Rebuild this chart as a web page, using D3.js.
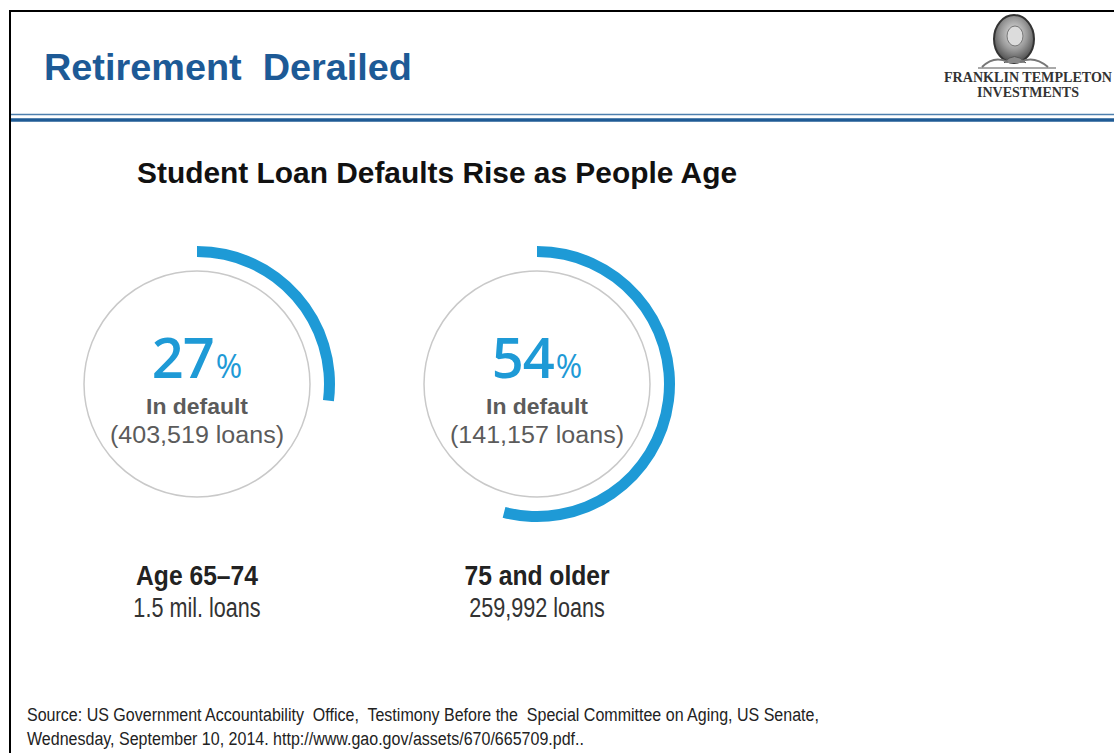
<!DOCTYPE html>
<html>
<head>
<meta charset="utf-8">
<script src="https://cdn.jsdelivr.net/npm/d3@7"></script>
<style>
  html, body { margin: 0; padding: 0; background: #fff; }
  svg { display: block; }
</style>
</head>
<body>
<svg id="chart" width="1114" height="753"></svg>
<script>
// Chart data
const groups = ["Age 65\u201374", "75 and older"];
const totalLoans = ["1.5 mil. loans", "259,992 loans"];
const defaultPct = [27, 54];
const defaultLoans = ["(403,519 loans)", "(141,157 loans)"];

const svg = d3.select("#chart");
const W = 1114, H = 753;

// squeeze text horizontally to mimic a condensed face
function condense(sel, k) {
    sel.each(function() {
        const n = this.getComputedTextLength();
        d3.select(this).attr("textLength", n * k).attr("lengthAdjust", "spacingAndGlyphs");
    });
}

// Slide frame
svg.append("line").attr("x1", 10).attr("x2", 10).attr("y1", 10).attr("y2", H)
    .attr("stroke", "#000").attr("stroke-width", 2);
svg.append("line").attr("x1", 9).attr("x2", W).attr("y1", 11).attr("y2", 11)
    .attr("stroke", "#000").attr("stroke-width", 2);

// Header rule (double line)
svg.append("line").attr("x1", 11).attr("x2", W).attr("y1", 114.5).attr("y2", 114.5)
    .attr("stroke", "#4d7fae").attr("stroke-width", 1.5);
svg.append("line").attr("x1", 11).attr("x2", W).attr("y1", 120).attr("y2", 120)
    .attr("stroke", "#1f5b95").attr("stroke-width", 3.5);

// Slide title
svg.append("text")
    .attr("x", 44).attr("y", 80)
    .attr("font-family", "Liberation Sans, Arial, sans-serif")
    .attr("font-weight", "bold")
    .attr("font-size", 37)
    .attr("fill", "#1d5a96")
    .attr("xml:space", "preserve")
    .attr("textLength", 368)
    .attr("lengthAdjust", "spacingAndGlyphs")
    .text("Retirement  Derailed");

// Logo (simplified portrait medallion + wordmark)
const defs = svg.append("defs");
const grad = defs.append("radialGradient").attr("id", "portrait")
    .attr("cx", "50%").attr("cy", "40%").attr("r", "60%");
grad.append("stop").attr("offset", "0%").attr("stop-color", "#e6e6e6");
grad.append("stop").attr("offset", "55%").attr("stop-color", "#9a9a9a");
grad.append("stop").attr("offset", "100%").attr("stop-color", "#4a4a4a");
const logo = svg.append("g").attr("transform", "translate(1014,0)");
logo.append("ellipse").attr("cx", 0).attr("cy", 39).attr("rx", 20).attr("ry", 24)
    .attr("fill", "url(#portrait)").attr("stroke", "#333").attr("stroke-width", 2);
logo.append("ellipse").attr("cx", 1).attr("cy", 36).attr("rx", 8).attr("ry", 10)
    .attr("fill", "#dcdcdc").attr("stroke", "#777").attr("stroke-width", 1);
logo.append("path").attr("d", "M-10,63 Q0,50 12,63")
    .attr("fill", "#8a8a8a").attr("stroke", "#555");
logo.append("path").attr("d", "M-32,67 Q-20,55 -6,62 M34,67 Q20,55 6,62")
    .attr("fill", "none").attr("stroke", "#777").attr("stroke-width", 2);
logo.append("line").attr("x1", -36).attr("x2", 42).attr("y1", 68).attr("y2", 68)
    .attr("stroke", "#555").attr("stroke-width", 1.2);
logo.append("text").attr("x", 14).attr("y", 82).attr("text-anchor", "middle")
    .attr("font-family", "Liberation Serif, Times New Roman, serif")
    .attr("font-weight", "bold").attr("font-size", 14).attr("fill", "#333")
    .attr("textLength", 168).attr("lengthAdjust", "spacingAndGlyphs")
    .text("FRANKLIN TEMPLETON");
logo.append("text").attr("x", 14).attr("y", 97).attr("text-anchor", "middle")
    .attr("font-family", "Liberation Serif, Times New Roman, serif")
    .attr("font-weight", "bold").attr("font-size", 14).attr("fill", "#333")
    .text("INVESTMENTS");

// Chart title
svg.append("text")
    .attr("x", 137).attr("y", 183)
    .attr("font-family", "Liberation Sans, Arial, sans-serif")
    .attr("font-weight", "bold")
    .attr("font-size", 29)
    .attr("fill", "#111")
    .attr("textLength", 600)
    .attr("lengthAdjust", "spacingAndGlyphs")
    .text("Student Loan Defaults Rise as People Age");

// Scales
const xScale = d3.scalePoint().domain(groups).range([197, 537]);
const cy = 384;
const angle = d3.scaleLinear().domain([0, 100]).range([0, 2 * Math.PI]);

const arc = d3.arc()
    .innerRadius(127)
    .outerRadius(138)
    .startAngle(0)
    .endAngle(d => angle(d));

const data = groups.map((g, i) => ({
    group: g, pct: defaultPct[i], loans: defaultLoans[i], total: totalLoans[i]
}));

const rings = svg.selectAll(".ring").data(data).enter().append("g")
    .attr("class", "ring")
    .attr("transform", d => `translate(${xScale(d.group)},${cy})`);

rings.append("circle")
    .attr("r", 113)
    .attr("fill", "none")
    .attr("stroke", "#c9c9c9")
    .attr("stroke-width", 1.5);

rings.append("path")
    .attr("d", d => arc(d.pct))
    .attr("fill", "#1e9ad6");

const pctText = rings.append("text")
    .attr("y", -6)
    .attr("text-anchor", "middle")
    .attr("font-family", "Open Sans, Liberation Sans, sans-serif")
    .attr("fill", "#1e9ad6");
pctText.append("tspan").attr("font-size", 56).attr("font-weight", 600)
    .attr("letter-spacing", -1).text(d => d.pct);
pctText.append("tspan").attr("font-size", 32).attr("font-weight", 400)
    .attr("dx", 2).text("%");

rings.append("text")
    .attr("y", 30)
    .attr("text-anchor", "middle")
    .attr("font-family", "Liberation Sans, Arial, sans-serif")
    .attr("font-weight", "bold")
    .attr("font-size", 22)
    .attr("fill", "#5b5b5b")
    .attr("textLength", 102)
    .attr("lengthAdjust", "spacingAndGlyphs")
    .text("In default");

rings.append("text")
    .attr("y", 59)
    .attr("text-anchor", "middle")
    .attr("font-family", "Liberation Sans, Arial, sans-serif")
    .attr("font-size", 23)
    .attr("fill", "#5b5b5b")
    .attr("textLength", 174)
    .attr("lengthAdjust", "spacingAndGlyphs")
    .text(d => d.loans);

// Group labels beneath the rings
rings.append("text")
    .attr("y", 201)
    .attr("text-anchor", "middle")
    .attr("font-family", "Liberation Sans, Arial, sans-serif")
    .attr("font-weight", "bold")
    .attr("font-size", 28)
    .attr("fill", "#222")
    .call(s => s.text(d => d.group))
    .call(condense, 0.88);

rings.append("text")
    .attr("y", 233)
    .attr("text-anchor", "middle")
    .attr("font-family", "Liberation Sans, Arial, sans-serif")
    .attr("font-size", 27)
    .attr("fill", "#333")
    .call(s => s.text(d => d.total))
    .call(condense, 0.8);

// Source note
const source = [
    "Source: US Government Accountability  Office,  Testimony Before the  Special Committee on Aging, US Senate,",
    "Wednesday, September 10, 2014. http://www.gao.gov/assets/670/665709.pdf.."
];
svg.selectAll(".src").data(source).enter().append("text")
    .attr("class", "src")
    .attr("x", 27)
    .attr("y", (d, i) => 721 + i * 24)
    .attr("font-family", "Liberation Sans, Arial, sans-serif")
    .attr("font-size", 18)
    .attr("fill", "#222")
    .attr("xml:space", "preserve")
    .call(s => s.text(d => d))
    .call(condense, 0.89);
</script>
</body>
</html>
